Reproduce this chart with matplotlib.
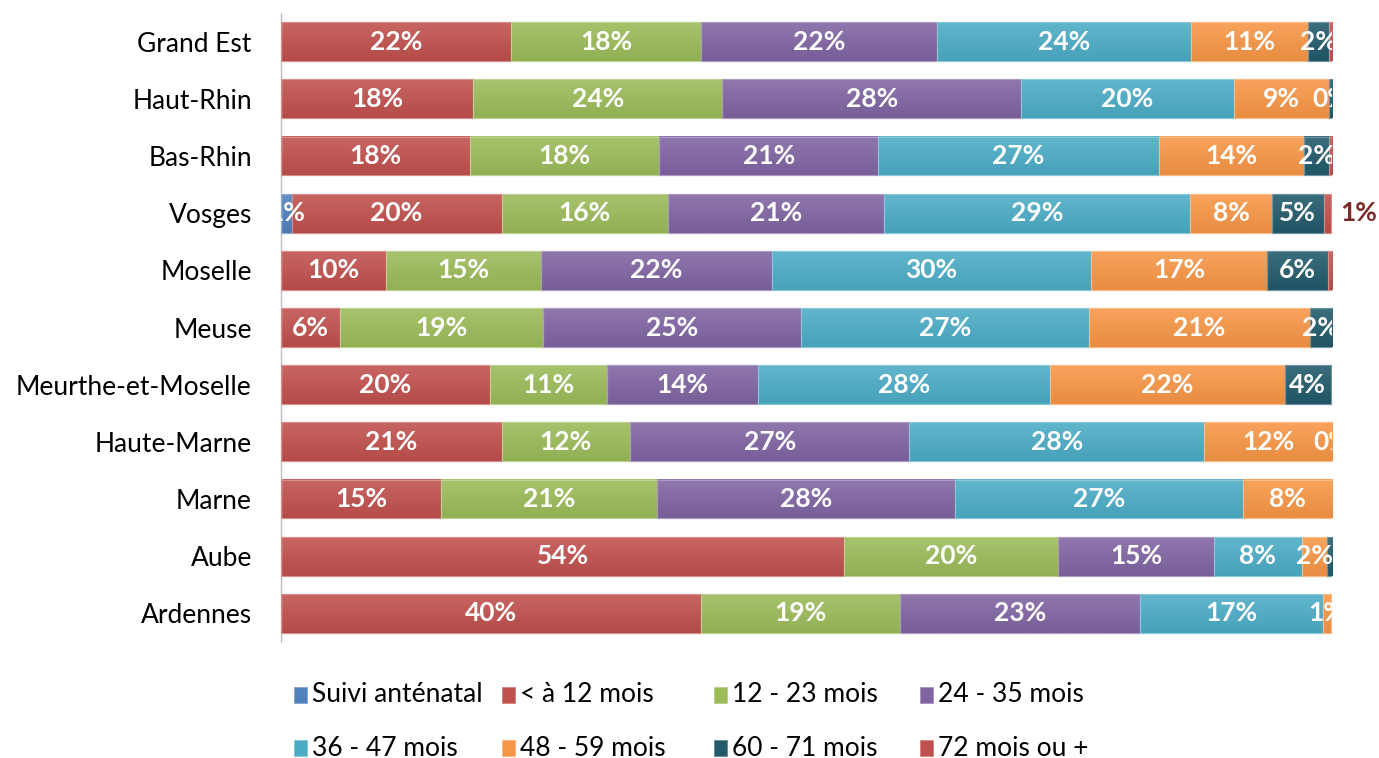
import numpy as np
import matplotlib
matplotlib.use("Agg")
import matplotlib.pyplot as plt
from matplotlib.colors import to_rgb
from matplotlib.patches import Rectangle

plt.rcParams['font.family'] = ['Lato', 'DejaVu Sans']

# departements, de haut en bas
regions = ["Grand Est", "Haut-Rhin", "Bas-Rhin", "Vosges", "Moselle", "Meuse",
           "Meurthe-et-Moselle", "Haute-Marne", "Marne", "Aube", "Ardennes"]

series_names = ["Suivi anténatal", "< à 12 mois", "12 - 23 mois", "24 - 35 mois",
                "36 - 47 mois", "48 - 59 mois", "60 - 71 mois", "72 mois ou +"]
colors = ["#4F81BD", "#C0504D", "#9BBB59", "#8064A2",
          "#4BACC6", "#F79646", "#215A6B", "#C0504D"]

# parts en %
suivi_antenatal = [0, 0, 0, 1.0, 0, 0, 0, 0, 0, 0, 0]
moins_12 = [21.9, 18.3, 18.0, 20.0, 10.0, 5.6, 19.9, 21.0, 15.2, 53.6, 40.0]
m12_23 = [18.1, 23.7, 18.0, 15.8, 14.7, 19.3, 11.1, 12.2, 20.6, 20.3, 18.9]
m24_35 = [22.4, 28.4, 20.8, 20.6, 22.0, 24.6, 14.4, 26.6, 28.3, 14.9, 22.8]
m36_47 = [24.2, 20.3, 26.7, 29.1, 30.4, 27.4, 27.8, 28.0, 27.4, 8.3, 17.4]
m48_59 = [11.1, 9.0, 13.8, 7.8, 16.7, 21.0, 22.3, 12.2, 8.5, 2.4, 0.8]
m60_71 = [2.0, 0.4, 2.4, 4.9, 5.8, 2.1, 4.4, 0, 0, 0.5, 0]
m72_plus = [0.3, 0, 0.3, 0.7, 0.4, 0, 0, 0, 0, 0, 0]

# etiquettes affichees pour 60-71 mois (certaines absentes)
labels_60_71 = ["2%", "0%", "2%", "5%", "6%", "2%", "4%", "0%", "", "", ""]
# seule etiquette 72 mois ou + affichee (hors barre)
label_72_vosges = "1%"

data = [suivi_antenatal, moins_12, m12_23, m24_35, m36_47, m48_59, m60_71, m72_plus]


def shade(c, f):
    r = np.array(to_rgb(c))
    if f >= 0:
        return r + (1 - r) * f
    return r * (1 + f)


fig = plt.figure(figsize=(13.79, 7.58), dpi=100)
ax = fig.add_axes([281 / 1379, 1 - 642 / 758, (1332 - 281) / 1379, (642 - 13) / 758])

y = np.arange(len(regions))
left = np.zeros(len(regions))
bar_h = 0.68
for k, vals in enumerate(data):
    vals = np.array(vals)
    bars = ax.barh(y, vals, left=left, height=bar_h, color=colors[k],
                   edgecolor=shade(colors[k], 0.35), linewidth=0.8, zorder=2)
    # degrade vertical facon Excel
    grad = np.linspace(0, 1, 32)
    top_c, bot_c = shade(colors[k], 0.12), shade(colors[k], -0.06)
    img = (top_c[None, :] * (1 - grad[:, None]) + bot_c[None, :] * grad[:, None])[:, None, :]
    for b in bars:
        if b.get_width() <= 0:
            continue
        x0, y0 = b.get_x(), b.get_y()
        ax.imshow(img, extent=(x0, x0 + b.get_width(), y0, y0 + b.get_height()),
                  origin="lower", aspect="auto", zorder=2.5, interpolation="bilinear")
        ax.add_patch(Rectangle((x0, y0), b.get_width(), b.get_height(), fill=False,
                               edgecolor=shade(colors[k], 0.35), linewidth=0.8, zorder=2.6))
    for i, v in enumerate(vals):
        cx = left[i] + v / 2
        if k <= 5:
            txt = f"{v:.0f}%" if v > 0 else ""
        elif k == 6:
            txt = labels_60_71[i]
        else:
            txt = ""
        if txt:
            ax.text(cx, y[i], txt, ha="center", va="center", color="white",
                    fontsize=19, fontweight="bold", zorder=5, clip_on=True)
    left += vals

iv = regions.index("Vosges")
ax.text(100.75, y[iv], label_72_vosges, ha="left", va="center", color="#7A2C2A",
        fontsize=19, fontweight="bold", clip_on=False)

ax.set_xlim(0, 100)
ax.set_ylim(len(regions) - 0.5, -0.5)
ax.set_yticks(y)
ax.set_yticklabels(regions, fontsize=19)
ax.tick_params(axis="y", length=0, pad=21)
ax.set_xticks([])
for s in ["top", "right", "bottom"]:
    ax.spines[s].set_visible(False)
ax.spines["left"].set_color("#BFBFBF")
ax.spines["left"].set_linewidth(1.0)

# legende manuelle (colonnes a largeur fixe comme Excel)
col_x = [294, 502, 714, 920]
row_y = [695, 748]
for k, name in enumerate(series_names):
    px, py = col_x[k % 4], row_y[k // 4]
    fig.patches.append(Rectangle((px / 1379, (758 - py - 8) / 758), 13 / 1379, 16 / 758,
                                 transform=fig.transFigure, facecolor=colors[k],
                                 edgecolor=shade(colors[k], 0.3), linewidth=0.6))
    fig.text((px + 18) / 1379, (758 - py) / 758, name, ha="left", va="center",
             fontsize=19, color="black")

fig.savefig("out.png", dpi=100)
